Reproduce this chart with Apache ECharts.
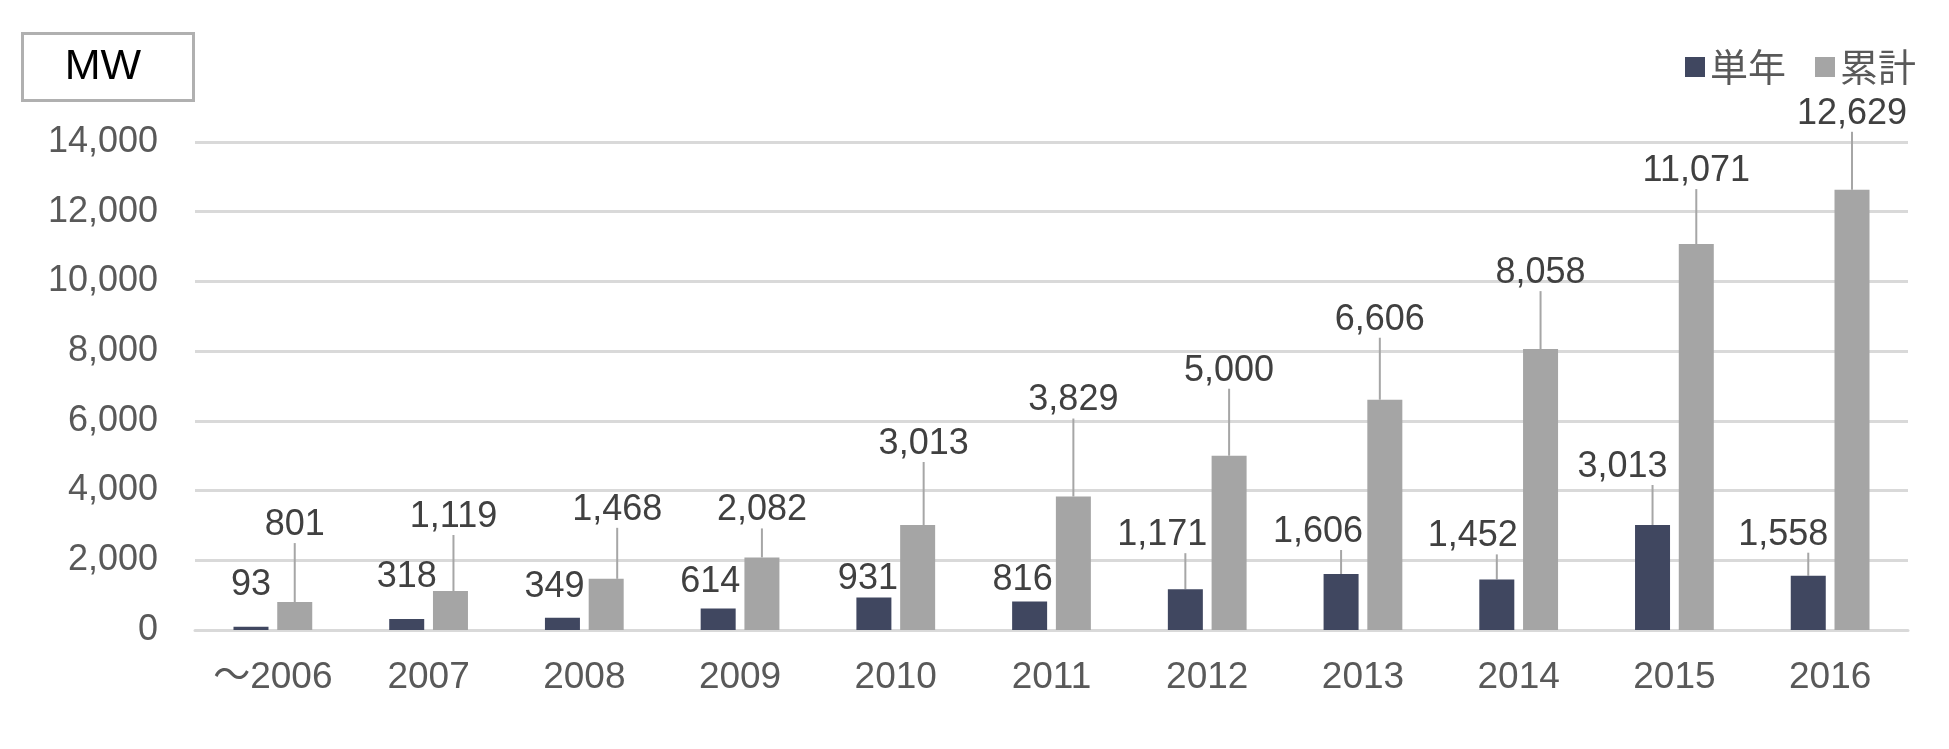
<!DOCTYPE html>
<html>
<head>
<meta charset="utf-8">
<script src="https://cdn.jsdelivr.net/npm/echarts@6/dist/echarts.min.js"></script>
<style>
  html, body { margin: 0; padding: 0; background: #fff; }
  #chart { width: 1949px; height: 749px; }
</style>
</head>
<body>
<div id="chart"></div>
<script>
// data
const categories = ['～2006', '2007', '2008', '2009', '2010', '2011', '2012', '2013', '2014', '2015', '2016'];
const singleYear = [93, 318, 349, 614, 931, 816, 1171, 1606, 1452, 3013, 1558];
const cumulative = [801, 1119, 1468, 2082, 3013, 3829, 5000, 6606, 8058, 11071, 12629];

// label placement, px from the top centre of each bar
const singleDx = [0, 0, -8, -8, -6, -7, -23, -23, -24, -30, -25];
const singleDy = [-42, -42, -31, -27, -18, -21, -54, -42, -43, -58, -41];
const singleLine = [false, false, false, false, false, false, true, true, true, true, true];
const cumDx = [0, 3, 11, 0, 6, 0, 0, -5, 0, 0, 0];
const cumDy = [-77, -74, -69, -47, -81, -96, -85, -80, -76, -73, -76];

const FONT = "'Liberation Sans', Arial, 'Noto Sans CJK JP', sans-serif";
const fmt = v => Number(v).toLocaleString('en-US');

// labels that have a guide line keep the line on the bar centre:
// the text is pushed sideways with padding instead of moving the label box
function items(values, dx, lines) {
  return values.map((v, i) => {
    const it = { value: v, labelLine: { show: lines[i] } };
    if (lines[i] && dx[i] !== 0) {
      const pad = Math.abs(dx[i]) * 2;
      it.label = { padding: dx[i] < 0 ? [0, pad, 0, 0] : [0, 0, 0, pad], backgroundColor: 'transparent' };
    }
    return it;
  });
}

function placer(dx, dy, lines) {
  return function (p) {
    const i = p.dataIndex;
    const shift = lines[i] ? 0 : dx[i];
    return {
      x: p.rect.x + p.rect.width / 2 + shift,
      y: p.rect.y + dy[i],
      align: 'center',
      verticalAlign: 'middle'
    };
  };
}

const cumLine = cumulative.map(() => true);
const cumDxLine = cumDx.map(() => 0);

const myChart = echarts.init(document.getElementById('chart'));

myChart.setOption({
  animation: false,
  textStyle: { fontFamily: FONT },
  grid: { left: 195, right: 41, top: 142, bottom: 119 },
  legend: {
    right: 33,
    top: 48,
    padding: 0,
    itemWidth: 20,
    itemHeight: 20,
    itemGap: 29,
    icon: 'rect',
    textStyle: { fontSize: 38, color: '#595959', fontFamily: "'Noto Sans CJK JP', sans-serif" },
    data: ['単年', '累計']
  },
  xAxis: {
    type: 'category',
    data: categories,
    axisTick: { show: false },
    axisLine: { lineStyle: { color: '#d9d9d9', width: 3 } },
    axisLabel: { fontSize: 37, color: '#595959', margin: 29 }
  },
  yAxis: {
    type: 'value',
    min: 0,
    max: 14000,
    interval: 2000,
    axisLine: { show: false },
    axisTick: { show: false },
    splitLine: { lineStyle: { color: '#d9d9d9', width: 3 } },
    axisLabel: { fontSize: 36, color: '#595959', margin: 37, formatter: fmt }
  },
  graphic: [
    {
      type: 'rect',
      left: 21,
      top: 32,
      shape: { width: 171, height: 67 },
      style: { fill: '#fff', stroke: '#b0b0b0', lineWidth: 3 }
    },
    {
      type: 'text',
      x: 103,
      y: 67,
      style: { text: 'MW', align: 'center', verticalAlign: 'middle', fontSize: 43, fontFamily: FONT, fill: '#000' }
    }
  ],
  series: [
    {
      name: '単年',
      type: 'bar',
      data: items(singleYear, singleDx, singleLine),
      barWidth: 35,
      barGap: '25%',
      itemStyle: { color: '#404760' },
      label: { show: true, position: 'top', fontSize: 36, color: '#404040', formatter: p => fmt(p.value) },
      labelLine: { show: true, lineStyle: { color: '#a6a6a6', width: 2 } },
      labelLayout: placer(singleDx, singleDy, singleLine)
    },
    {
      name: '累計',
      type: 'bar',
      data: items(cumulative, cumDxLine, cumLine),
      barWidth: 35,
      itemStyle: { color: '#a5a5a5' },
      label: { show: true, position: 'top', fontSize: 36, color: '#404040', formatter: p => fmt(p.value) },
      labelLine: { show: true, lineStyle: { color: '#a6a6a6', width: 2 } },
      labelLayout: placer(cumDx, cumDy, cumDxLine.map(() => false))
    }
  ]
});
</script>
</body>
</html>
